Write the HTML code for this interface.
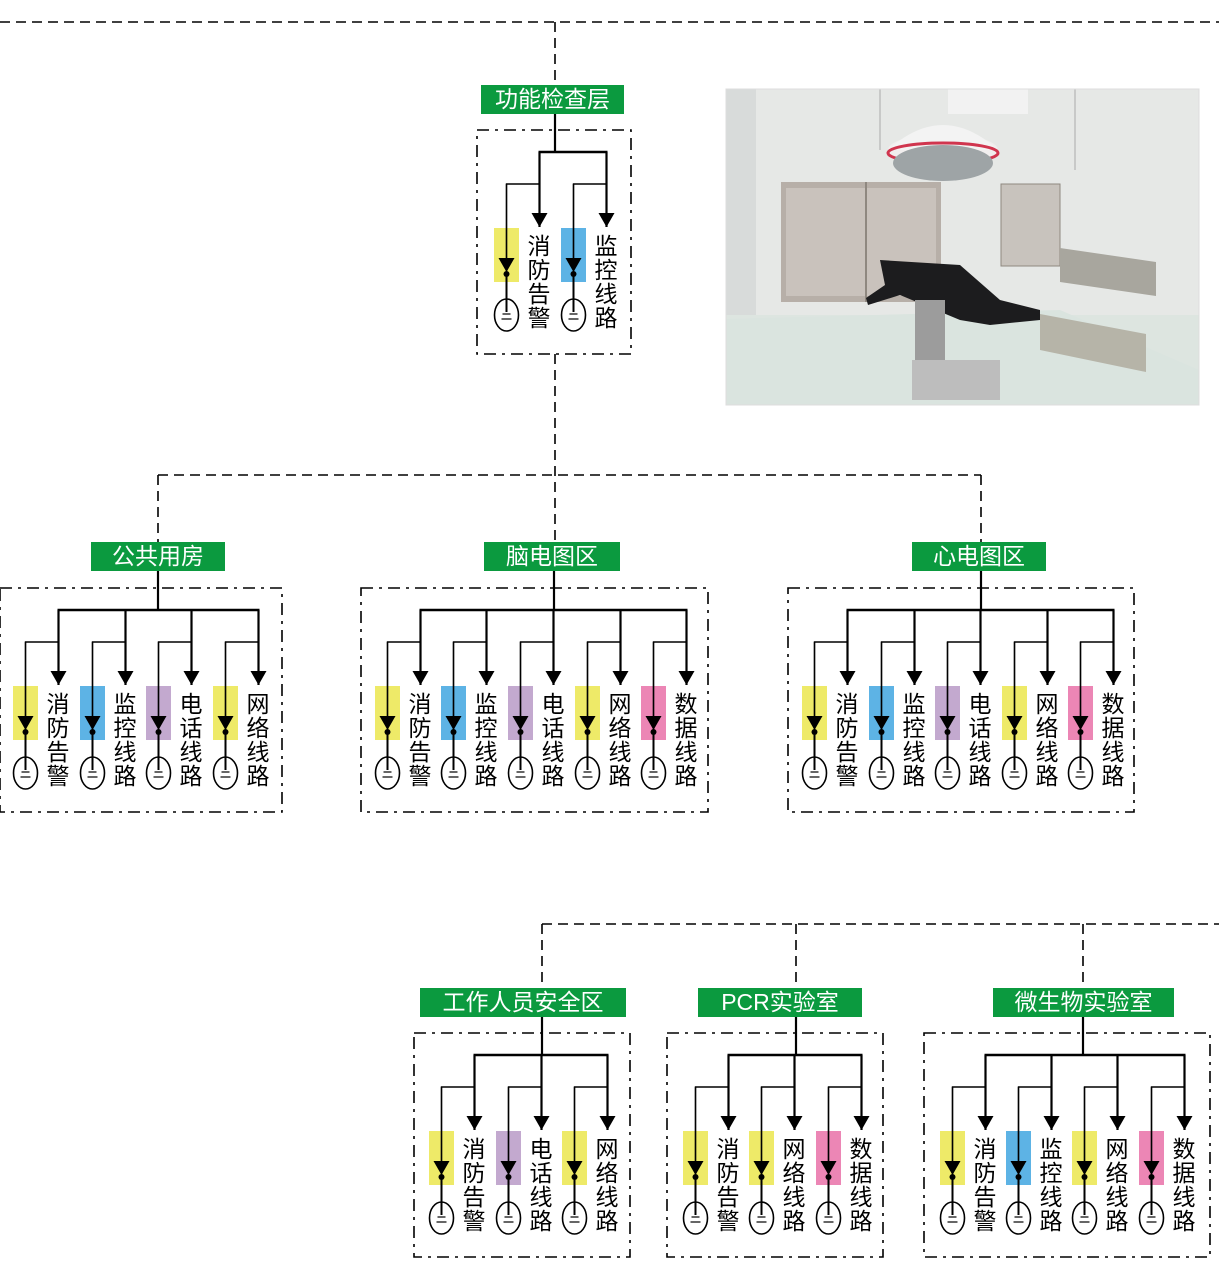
<!DOCTYPE html>
<html><head><meta charset="utf-8">
<style>
html,body{margin:0;padding:0;background:#fff;}
#wrap{position:relative;width:1219px;height:1267px;overflow:hidden;font-family:"Liberation Sans","Noto Sans CJK SC",sans-serif;}
svg{position:absolute;left:0;top:0;}
.v{position:absolute;writing-mode:vertical-rl;font-size:23px;letter-spacing:1px;line-height:23px;width:23px;color:#000;font-family:"Liberation Sans","Noto Sans CJK SC",sans-serif;margin-left:-3px;}
.lb{position:absolute;background:#0b9a3f;color:#fff;font-size:23px;text-align:center;line-height:29px;height:29px;font-family:"Liberation Sans","Noto Sans CJK SC",sans-serif;}
</style></head><body><div id="wrap">
<svg id="s" width="1219" height="1267" viewBox="0 0 1219 1267">
<defs>
<marker id="ab" markerWidth="16" markerHeight="16" refX="14" refY="8" orient="auto" markerUnits="userSpaceOnUse"><path d="M0,0 L14,8 L0,16 Z" fill="#000"/></marker>
<marker id="as" markerWidth="16" markerHeight="16" refX="14" refY="8" orient="auto" markerUnits="userSpaceOnUse"><path d="M0,0 L14,8 L0,16 Z" fill="#000"/></marker>
</defs>
<!-- photo -->
<g>
<rect x="726" y="89" width="473" height="316" fill="#e6e8e6"/>
<rect x="726" y="89" width="30" height="230" fill="#d8dbda"/>
<rect x="726" y="315" width="473" height="90" fill="#dde5e0"/>
<polygon points="726,319 1060,310 1199,370 1199,405 726,405" fill="#dae4df"/>
<rect x="781" y="182" width="160" height="120" fill="#b7afa8"/>
<rect x="786" y="188" width="150" height="108" fill="#c9c2bc"/>
<line x1="866" y1="182" x2="866" y2="302" stroke="#8f8880" stroke-width="2"/>
<rect x="1001" y="184" width="59" height="82" fill="#c8c3bd" stroke="#8f8880"/>
<polygon points="1060,248 1156,262 1156,296 1060,282" fill="#a8a69e"/>
<polygon points="1040,314 1146,334 1146,372 1040,350" fill="#b6b4a8"/>
<rect x="948" y="89" width="80" height="25" fill="#f2f2f2"/>
<line x1="880" y1="89" x2="880" y2="150" stroke="#aaa"/>
<line x1="1075" y1="89" x2="1075" y2="170" stroke="#aaa"/>
<ellipse cx="943" cy="150" rx="55" ry="16" fill="#f1eeee"/>
<path d="M888,150 Q943,100 998,150" fill="#f3f3f3"/>
<ellipse cx="943" cy="153" rx="55" ry="10" fill="none" stroke="#d0354e" stroke-width="3"/>
<ellipse cx="943" cy="163" rx="50" ry="18" fill="#9ea4a6"/>
<polygon points="880,260 960,265 1000,300 1040,310 1040,320 990,325 960,320 900,295 868,305 866,298 885,285" fill="#1c1c1e"/>
<rect x="915" y="300" width="30" height="70" fill="#9c9c9c"/>
<rect x="912" y="360" width="88" height="40" fill="#bdbdbd"/>
<rect x="726" y="89" width="473" height="316" fill="none" stroke="#ddd"/>
</g>
<g id="g"></g>
</svg>

<div class="lb" style="left:481px;top:85px;width:143px;">功能检查层</div>
<div class="lb" style="left:91px;top:542px;width:134px;">公共用房</div>
<div class="lb" style="left:484px;top:542px;width:136px;">脑电图区</div>
<div class="lb" style="left:912px;top:542px;width:134px;">心电图区</div>
<div class="lb" style="left:420px;top:988px;width:206px;">工作人员安全区</div>
<div class="lb" style="left:698px;top:988px;width:164px;">PCR实验室</div>
<div class="lb" style="left:993px;top:988px;width:181px;">微生物实验室</div>

<div class="v" style="left:528px;top:234px;">消防告警</div>
<div class="v" style="left:595px;top:234px;">监控线路</div>
<div class="v" style="left:47px;top:692px;">消防告警</div>
<div class="v" style="left:114px;top:692px;">监控线路</div>
<div class="v" style="left:180px;top:692px;">电话线路</div>
<div class="v" style="left:247px;top:692px;">网络线路</div>
<div class="v" style="left:409px;top:692px;">消防告警</div>
<div class="v" style="left:475px;top:692px;">监控线路</div>
<div class="v" style="left:542px;top:692px;">电话线路</div>
<div class="v" style="left:609px;top:692px;">网络线路</div>
<div class="v" style="left:675px;top:692px;">数据线路</div>
<div class="v" style="left:836px;top:692px;">消防告警</div>
<div class="v" style="left:903px;top:692px;">监控线路</div>
<div class="v" style="left:969px;top:692px;">电话线路</div>
<div class="v" style="left:1036px;top:692px;">网络线路</div>
<div class="v" style="left:1102px;top:692px;">数据线路</div>
<div class="v" style="left:463px;top:1137px;">消防告警</div>
<div class="v" style="left:530px;top:1137px;">电话线路</div>
<div class="v" style="left:596px;top:1137px;">网络线路</div>
<div class="v" style="left:717px;top:1137px;">消防告警</div>
<div class="v" style="left:783px;top:1137px;">网络线路</div>
<div class="v" style="left:850px;top:1137px;">数据线路</div>
<div class="v" style="left:974px;top:1137px;">消防告警</div>
<div class="v" style="left:1040px;top:1137px;">监控线路</div>
<div class="v" style="left:1106px;top:1137px;">网络线路</div>
<div class="v" style="left:1173px;top:1137px;">数据线路</div>

<script>
(function(){
var NS="http://www.w3.org/2000/svg",g=document.getElementById("g");
function el(t,a){var e=document.createElementNS(NS,t);for(var k in a)e.setAttribute(k,a[k]);g.appendChild(e);return e;}
function line(x1,y1,x2,y2,w,d,m){var a={x1:x1,y1:y1,x2:x2,y2:y2,stroke:"#000","stroke-width":w||2};if(d)a["stroke-dasharray"]=d;if(m)a["marker-end"]="url(#"+m+")";el("line",a);}
function pl(p,w){el("polyline",{points:p,fill:"none",stroke:"#000","stroke-width":w});}
var Y="#eeea68",B="#5db3e5",P="#c3a9cf",K="#ec86b5";
var DD="10,6", DDOT="12,6,3,6";
line(0,22,1219,22,1.6,DD);
line(555,22,555,85,1.6,DD);
line(555,354,555,542,1.6,DD);
line(158,475,981,475,1.6,DD);
line(158,475,158,542,1.6,DD);
line(981,475,981,542,1.6,DD);
line(542,924,1219,924,1.6,DD);
line(542,924,542,988,1.6,DD);
line(796,924,796,988,1.6,DD);
line(1083,924,1083,988,1.6,DD);
function group(bx,stem,lblBot,box,units){
  el("rect",{x:box[0],y:box[1],width:box[2]-box[0],height:box[3]-box[1],fill:"none",stroke:"#000","stroke-width":1.6,"stroke-dasharray":DDOT});
  var xs=units.map(function(u){return u[0]+45.5;});
  var bus=bx-76,inner=bx-44;
  line(stem,lblBot,stem,bus,2.2);
  line(xs[0]-1,bus,xs[xs.length-1]+1,bus,2.5);
  units.forEach(function(u){
    var x=u[0],cx=x+12.5,ax=x+45.5;
    el("rect",{x:x,y:bx,width:25,height:54,fill:u[1]});
    line(ax,bus,ax,bx-1,2.2,null,"ab");
    pl(cx+","+(bx+30)+" "+cx+","+inner+" "+ax+","+inner,1.4);
    line(cx,inner,cx,bx+44,1.4,null,"as");
    el("circle",{cx:cx,cy:bx+46,r:3,fill:"#000"});
    line(cx,bx+46,cx,bx+71,2);
    el("ellipse",{cx:cx,cy:bx+87,rx:12,ry:16,fill:"#fff",stroke:"#000","stroke-width":1.6});
    line(cx,bx+71,cx,bx+84,2);
    line(cx-4,bx+86,cx+4,bx+86,1.2);
    line(cx-5,bx+91,cx+5,bx+91,1.2);
  });
}
group(228,555,113,[477,130,631,354],[[494,Y],[561,B]]);
group(686,158,571,[0,588,282,812],[[13,Y],[80,B],[146,P],[213,Y]]);
group(686,554,571,[361,588,708,812],[[375,Y],[441,B],[508,P],[575,Y],[641,K]]);
group(686,981,571,[788,588,1134,812],[[802,Y],[869,B],[935,P],[1002,Y],[1068,K]]);
group(1131,542,1017,[414,1033,630,1257],[[429,Y],[496,P],[562,Y]]);
group(1131,796,1017,[667,1033,883,1257],[[683,Y],[749,Y],[816,K]]);
group(1131,1083,1017,[924,1033,1210,1257],[[940,Y],[1006,B],[1072,Y],[1139,K]]);
})();
</script>
</div></body></html>
